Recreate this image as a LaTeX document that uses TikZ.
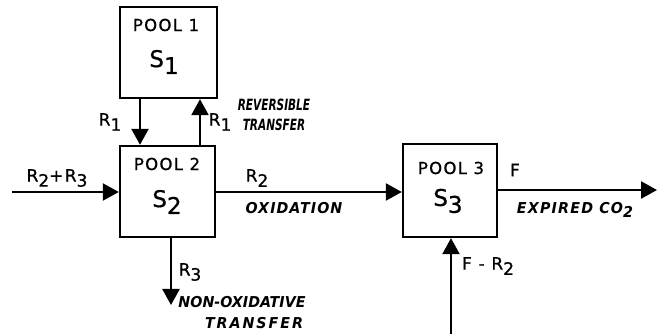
\documentclass[tikz,border=0pt]{standalone}
\usepackage{fontspec}
\setmainfont{DejaVu Sans}[LetterSpace=8,FakeBold=0.8]
\newfontfamily\notefont{DejaVu Sans}[FakeStretch=0.68]
\newfontfamily\notewide{DejaVu Sans}[FakeStretch=0.95]
\usetikzlibrary{arrows.meta}
\newcommand\lo[1]{\raisebox{-0.55ex}{#1}}
\begin{document}
\begin{tikzpicture}[x=1pt,y=-1pt,
  pool/.style={draw,line width=2.4pt,inner sep=0pt},
  arr/.style={line width=2.4pt,-{Triangle[length=16pt,width=17pt]}},
  title/.style={font=\fontsize{16.5}{16.5}\selectfont,inner sep=0pt},
  svar/.style={font=\fontsize{23}{23}\selectfont,inner sep=0pt},
  rlab/.style={font=\fontsize{17}{17}\selectfont,inner sep=0pt},
  note/.style={font=\notefont\bfseries\itshape\fontsize{15.5}{15.5}\selectfont,inner sep=0pt,align=center},
  wide/.style={font=\notewide\bfseries\itshape\fontsize{15}{15}\selectfont\addfontfeature{LetterSpace=#1},inner sep=0pt}]
\useasboundingbox (0,0) rectangle (664,336);
% boxes
\node[pool,minimum width=97pt,minimum height=91pt] (p1) at (168.5,52.5) {};
\node[pool,minimum width=95pt,minimum height=91pt] (p2) at (167.5,191.5) {};
\node[pool,minimum width=94pt,minimum height=93pt] (p3) at (450,190.5) {};
% box texts
\node[title] (t1) at (166,25) {POOL 1};
\node[svar] (s1) at (164,62) {S\lo{1}};
\node[title] (t2) at (167,164) {POOL 2};
\node[svar] (s2) at (167,202) {S\lo{2}};
\node[title] (t3) at (451,168) {POOL 3};
\node[svar] (s3) at (448,201) {S\lo{3}};
% coordinates
\coordinate (xa) at (140,0);
\coordinate (xb) at (200,0);
\coordinate (in) at (12,192);
\coordinate (xc) at (171,0);
\coordinate (r3end) at (171,305);
\coordinate (fr) at (451,334);
\coordinate (out) at (657,190);
% connectors
\draw[arr] (p1.south -| xa) -- (p2.north -| xa);
\draw[arr] (p2.north -| xb) -- (p1.south -| xb);
\draw[arr] (in) -- (p2.west |- in);
\draw[arr] (p2.east |- in) -- (p3.west |- in);
\draw[arr] (p2.south -| xc) -- (r3end);
\draw[arr] (fr) -- (p3.south -| fr);
\draw[arr] (p3.east |- out) -- (out);
% labels
\node[rlab] (r1a) at (110,122) {R\lo{1}};
\node[rlab] (r1b) at (220,122) {R\lo{1}};
\node[note] (rev) at (274,115) {REVERSIBLE\\[4pt]TRANSFER};
\node[rlab] (r23) at (57,178) {R\lo{2}+R\lo{3}};
\node[rlab] (r2) at (257,178) {R\lo{2}};
\node[wide=7] (ox) at (294,208) {OXIDATION};
\node[rlab] (r3) at (190,272) {R\lo{3}};
\node[wide=0] (nox) at (242,302) {NON-OXIDATIVE};
\node[wide=13] (tr2) at (254,323) {TRANSFER};
\node[rlab] (f) at (515,170) {F};
\node[wide=8] (exp) at (575,210) {EXPIRED CO\lo{2}};
\node[rlab] (fr2) at (488,266) {F - R\lo{2}};
\end{tikzpicture}
\end{document}
